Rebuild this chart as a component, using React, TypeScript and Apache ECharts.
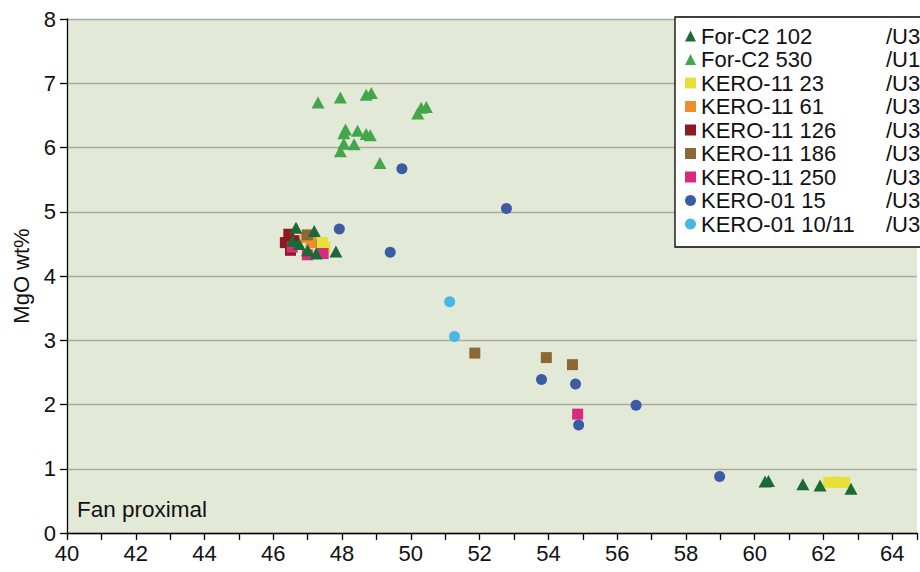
import React, { useEffect, useRef } from "react";
import * as echarts from "echarts";

const xTicks = [40, 42, 44, 46, 48, 50, 52, 54, 56, 58, 60, 62, 64];
const yTicks = [0, 1, 2, 3, 4, 5, 6, 7, 8];

const seriesNames = [
  "For-C2 102",
  "For-C2 530",
  "KERO-11 23",
  "KERO-11 61",
  "KERO-11 126",
  "KERO-11 186",
  "KERO-11 250",
  "KERO-01 15",
  "KERO-01 10/11",
];
const seriesSuffix = ["/U3", "/U1", "/U3", "/U3", "/U3", "/U3", "/U3", "/U3", "/U3"];

const forC2_102 = [
  [46.66, 4.75], [46.56, 4.55], [46.75, 4.5], [47.19, 4.7], [47.0, 4.4], [47.25, 4.35],
  [47.82, 4.38], [60.3, 0.8], [60.4, 0.81], [61.4, 0.76], [61.9, 0.74], [62.8, 0.69],
];
const forC2_530 = [
  [47.3, 6.7], [47.95, 6.78], [48.7, 6.82], [48.85, 6.85], [48.1, 6.28], [48.05, 6.22],
  [48.45, 6.26], [48.7, 6.21], [48.82, 6.19], [48.05, 6.06], [47.95, 5.94], [48.35, 6.05],
  [49.1, 5.76], [50.2, 6.53], [50.3, 6.62], [50.45, 6.63], [47.19, 4.54], [47.35, 4.45],
];
const kero11_23 = [
  [47.43, 4.52], [47.5, 4.45], [62.15, 0.79], [62.3, 0.79], [62.45, 0.79], [62.62, 0.79],
];
const kero11_61 = [[46.95, 4.6], [47.1, 4.52]];
const kero11_126 = [[46.35, 4.52], [46.45, 4.65], [46.5, 4.4], [46.6, 4.55]];
const kero11_186 = [[46.99, 4.64], [51.86, 2.8], [53.94, 2.73], [54.7, 2.62]];
const kero11_250 = [[46.55, 4.45], [46.99, 4.33], [47.45, 4.35], [54.85, 1.85]];
const kero01_15 = [
  [49.74, 5.67], [52.78, 5.05], [47.92, 4.73], [49.4, 4.37], [53.8, 2.39], [54.79, 2.32],
  [56.55, 1.99], [54.88, 1.68], [58.98, 0.88],
];
const kero01_1011 = [[51.13, 3.6], [51.27, 3.06]];

const seriesData = [
  forC2_102, forC2_530, kero11_23, kero11_61, kero11_126, kero11_186, kero11_250, kero01_15, kero01_1011,
];
const colors = [
  "#1b6a36", "#43a64a", "#e8e03a", "#ee8f2a", "#8c1a20", "#8b6935", "#d82a7e", "#3b5ca5", "#47b7e6",
];
const symbols = [
  "triangle", "triangle", "rect", "rect", "rect", "rect", "rect", "circle", "circle",
];
const symbolSizes: any[] = [[13, 12], [13, 12], 11, 11, 11, 11, 11, 11, 11];

const FONT = "Liberation Sans, Arial, sans-serif";

export default function App() {
  const ref = useRef<HTMLDivElement>(null);
  useEffect(() => {
    if (!ref.current) return;
    const chart = echarts.init(ref.current, undefined, { renderer: "svg" });
    const suffixMap: Record<string, string> = {};
    seriesNames.forEach((n, i) => (suffixMap[n] = seriesSuffix[i]));
    chart.setOption({
      animation: false,
      backgroundColor: "#ffffff",
      grid: {
        left: 67,
        right: 0,
        top: 19,
        bottom: 39,
        show: true,
        backgroundColor: "#e3e9d7",
        borderWidth: 0,
      },
      xAxis: {
        type: "value",
        min: 40,
        max: 64.72,
        interval: 2,
        axisLine: { show: true, onZero: false, lineStyle: { color: "#000", width: 1.3 } },
        axisTick: { show: true, length: 7, lineStyle: { color: "#000", width: 1.3 } },
        minorTick: { show: true, splitNumber: 2, length: 7, lineStyle: { color: "#000", width: 1.3 } },
        splitLine: { show: false },
        axisLabel: {
          color: "#111",
          fontSize: 22,
          fontFamily: FONT,
          margin: 9,
          formatter: (v: number) => (xTicks.includes(v) ? String(v) : ""),
        },
      },
      yAxis: {
        type: "value",
        min: 0,
        max: 8,
        interval: 1,
        name: "MgO wt%",
        nameLocation: "middle",
        nameGap: 27,
        nameTextStyle: { color: "#111", fontSize: 22, fontFamily: FONT },
        axisLine: { show: true, lineStyle: { color: "#000", width: 1.3 } },
        axisTick: { show: true, length: 7, lineStyle: { color: "#000", width: 1.3 } },
        splitLine: { show: true, lineStyle: { color: "#a9ad9f", width: 1.3 } },
        axisLabel: {
          color: "#111",
          fontSize: 22,
          fontFamily: FONT,
          margin: 11,
          formatter: (v: number) => (yTicks.includes(v) ? String(v) : ""),
        },
      },
      legend: {
        orient: "vertical",
        left: 675,
        top: 17,
        padding: [8, 60, 12, 10],
        backgroundColor: "#ffffff",
        borderColor: "#000",
        borderWidth: 1.3,
        borderRadius: 0,
        itemWidth: 11,
        itemHeight: 11,
        itemGap: 1.5,
        data: seriesNames,
        formatter: (name: string) => `{a|${name}}{b|${suffixMap[name]}}`,
        textStyle: {
          color: "#111",
          fontSize: 22,
          fontFamily: FONT,
          lineHeight: 20,
          rich: {
            a: { width: 185, fontSize: 22, fontFamily: FONT, color: "#111", lineHeight: 20 },
            b: { fontSize: 22, fontFamily: FONT, color: "#111", lineHeight: 20 },
          },
        },
      },
      graphic: [
        {
          type: "text",
          left: 77,
          top: 498,
          style: { text: "Fan proximal", fontSize: 22.5, fontFamily: FONT, fill: "#111" },
        },
      ],
      series: seriesNames.map((name, i) => ({
        name,
        type: "scatter",
        data: seriesData[i],
        symbol: symbols[i],
        symbolSize: symbolSizes[i],
        z: i === 0 ? 3 : 2,
        itemStyle: { color: colors[i], opacity: 1 },
        emphasis: { disabled: true },
      })),
    });
    return () => chart.dispose();
  }, []);
  return (
    <div
      ref={ref}
      style={{ position: "absolute", left: 0, top: 0, width: 920, height: 572 }}
    />
  );
}
